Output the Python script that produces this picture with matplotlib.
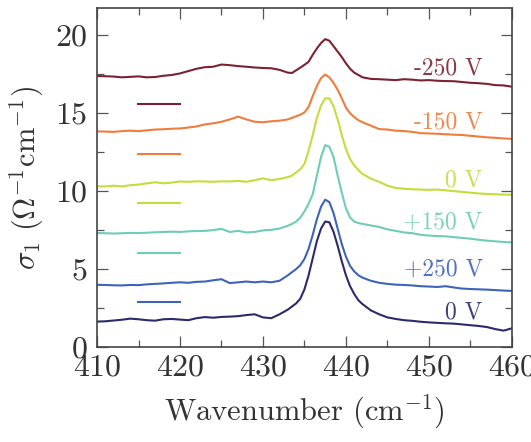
import numpy as np
import matplotlib
matplotlib.use("Agg")
import matplotlib.pyplot as plt
from matplotlib.ticker import MultipleLocator

plt.rcParams['font.family'] = ['cmr10', 'DejaVu Serif']
plt.rcParams['mathtext.fontset'] = 'cm'
plt.rcParams['axes.formatter.use_mathtext'] = True

x = [410, 411, 412, 413, 414, 415, 416, 417, 418, 419, 420, 421, 422, 423, 424,
     425, 426, 427, 428, 429, 430, 431, 432, 433, 433.5, 434, 434.5, 435, 435.5,
     436, 436.5, 437, 437.5, 438, 438.5, 439, 439.5, 440, 440.5, 441, 441.5, 442,
     443, 444, 445, 446, 447, 448, 449, 450, 451, 452, 453, 454, 455, 456, 457,
     458, 459, 460]

m250 = [17.38, 17.37, 17.35, 17.30, 17.33, 17.36, 17.30, 17.32, 17.40, 17.45, 17.55,
        17.70, 17.85, 17.95, 17.98, 18.12, 18.08, 18.02, 17.98, 17.93, 17.90, 17.88,
        17.78, 17.60, 17.58, 17.75, 17.92, 18.10, 18.30, 18.75, 19.15, 19.50, 19.75,
        19.65, 19.30, 18.95, 18.60, 18.20, 17.85, 17.60, 17.45, 17.30, 17.20, 17.18,
        17.15, 17.12, 17.18, 17.15, 17.10, 17.12, 17.08, 17.06, 17.05, 17.00, 16.95,
        16.92, 16.88, 16.80, 16.78, 16.70]
m150 = [13.83, 13.82, 13.80, 13.85, 13.88, 13.85, 13.90, 13.95, 13.97, 14.00, 14.02,
        14.08, 14.15, 14.28, 14.35, 14.45, 14.60, 14.78, 14.60, 14.45, 14.42, 14.48,
        14.52, 14.60, 14.70, 14.80, 14.90, 15.05, 15.40, 16.10, 16.75, 17.25, 17.48,
        17.30, 16.95, 16.50, 15.95, 15.35, 15.00, 14.75, 14.55, 14.42, 14.20, 13.98,
        13.95, 13.88, 13.85, 13.80, 13.72, 13.70, 13.68, 13.65, 13.62, 13.60, 13.55,
        13.50, 13.45, 13.42, 13.38, 13.35]
v0a = [10.31, 10.30, 10.35, 10.30, 10.38, 10.42, 10.50, 10.57, 10.50, 10.55, 10.62,
       10.60, 10.63, 10.62, 10.60, 10.63, 10.62, 10.65, 10.60, 10.70, 10.82, 10.70,
       10.78, 10.90, 11.00, 11.20, 11.40, 11.75, 12.60, 13.60, 14.70, 15.50, 15.95,
       15.95, 15.45, 14.60, 13.60, 12.70, 12.05, 11.65, 11.35, 11.10, 10.80, 10.60,
       10.35, 10.20, 10.15, 10.12, 10.10, 10.08, 10.10, 10.05, 10.00, 9.95, 9.90,
       9.85, 9.82, 9.80, 9.78, 9.77]
p150 = [7.31, 7.30, 7.28, 7.30, 7.32, 7.31, 7.33, 7.36, 7.38, 7.40, 7.38, 7.42, 7.44,
        7.45, 7.50, 7.58, 7.38, 7.45, 7.35, 7.38, 7.48, 7.52, 7.60, 7.78, 7.90, 8.05,
        8.30, 8.70, 9.20, 9.80, 11.00, 12.20, 12.95, 12.85, 12.20, 11.00, 9.90, 8.90,
        8.30, 8.05, 7.95, 7.90, 7.80, 7.70, 7.55, 7.45, 7.35, 7.30, 7.20, 7.15, 7.12,
        7.10, 7.05, 7.00, 6.95, 6.88, 6.82, 6.78, 6.74, 6.71]
p250 = [3.99, 3.98, 3.96, 3.95, 3.98, 3.97, 4.02, 4.05, 4.08, 4.12, 4.15, 4.12, 4.18,
        4.20, 4.28, 4.35, 4.10, 4.15, 4.20, 4.15, 4.20, 4.15, 4.25, 4.60, 4.80, 5.00,
        5.25, 5.65, 6.30, 7.20, 8.20, 9.00, 9.45, 9.30, 8.60, 7.60, 6.60, 5.80, 5.20,
        4.85, 4.60, 4.45, 4.25, 4.12, 4.05, 4.00, 3.98, 3.95, 3.90, 3.88, 3.85, 3.90,
        3.82, 3.75, 3.72, 3.70, 3.68, 3.65, 3.62, 3.60]
v0b = [1.63, 1.65, 1.70, 1.75, 1.82, 1.78, 1.72, 1.69, 1.78, 1.80, 1.76, 1.72, 1.85,
       1.92, 1.88, 1.93, 1.95, 1.98, 2.05, 2.10, 1.90, 1.85, 2.10, 2.40, 2.60, 2.80,
       3.10, 3.70, 4.60, 5.70, 6.80, 7.60, 8.05, 8.00, 7.40, 6.50, 5.50, 4.60, 3.90,
       3.40, 3.00, 2.75, 2.35, 2.10, 1.90, 1.80, 1.72, 1.68, 1.62, 1.58, 1.55, 1.52,
       1.50, 1.45, 1.40, 1.35, 1.28, 1.15, 1.05, 1.20]

series = [m250, m150, v0a, p150, p250, v0b]
labels = ['-250 V', '-150 V', '0 V', '+150 V', '+250 V', '0 V']
label_y = [17.9, 14.4, 10.7, 8.0, 4.95, 2.2]
colors = ['#7b2232', '#f07c3c', '#c5dc3a', '#6fcdb5', '#3e63b8', '#2c2a6b']

xticks = [410, 420, 430, 440, 450, 460]
yticks = [0, 5, 10, 15, 20]

fig = plt.figure(figsize=(5.31, 4.42), dpi=100)
ax = fig.add_axes([0.1827, 0.2149, 0.7813, 0.7671])

lines = []
for ys, c in zip(series, colors):
    ln, = ax.plot(x, ys, color=c, lw=1.5)
    lines.append(ln)

for lab, ly, c in zip(labels, label_y, colors):
    ax.text(456.5, ly, lab, color=c, fontsize=17, ha='right', va='center', alpha=0.9)

ax.legend(lines[:5], [''] * 5, loc='upper left', bbox_to_anchor=(0.099, 0.730),
          frameon=False, fontsize=10, handlelength=3.0, handletextpad=0,
          borderpad=0, borderaxespad=0, labelspacing=2.64)

ax.set_xlim(410, 460)
ax.set_ylim(0, 21.75)
ax.set_xticks(xticks)
ax.set_yticks(yticks)
ax.xaxis.set_minor_locator(MultipleLocator(5))
ax.yaxis.set_minor_locator(MultipleLocator(2.5))
ax.tick_params(which='both', direction='in', top=True, right=True,
               color='#555555', width=0.9, labelsize=23, labelcolor='#333333')
ax.tick_params(axis='x', which='both', pad=5)
ax.tick_params(axis='y', which='both', pad=7)
ax.tick_params(which='major', length=8)
ax.tick_params(which='minor', length=5)
for s in ax.spines.values():
    s.set_color('#444444')
    s.set_linewidth(1.2)

ax.set_xlabel(r'Wavenumber (cm$^{-1}$)', fontsize=22, color='#333333', labelpad=8)
ax.set_ylabel(r'$\sigma_1\ (\Omega^{-1}\mathrm{cm}^{-1})$', fontsize=22,
              color='#333333', labelpad=6)

fig.savefig('out.png', dpi=100)
